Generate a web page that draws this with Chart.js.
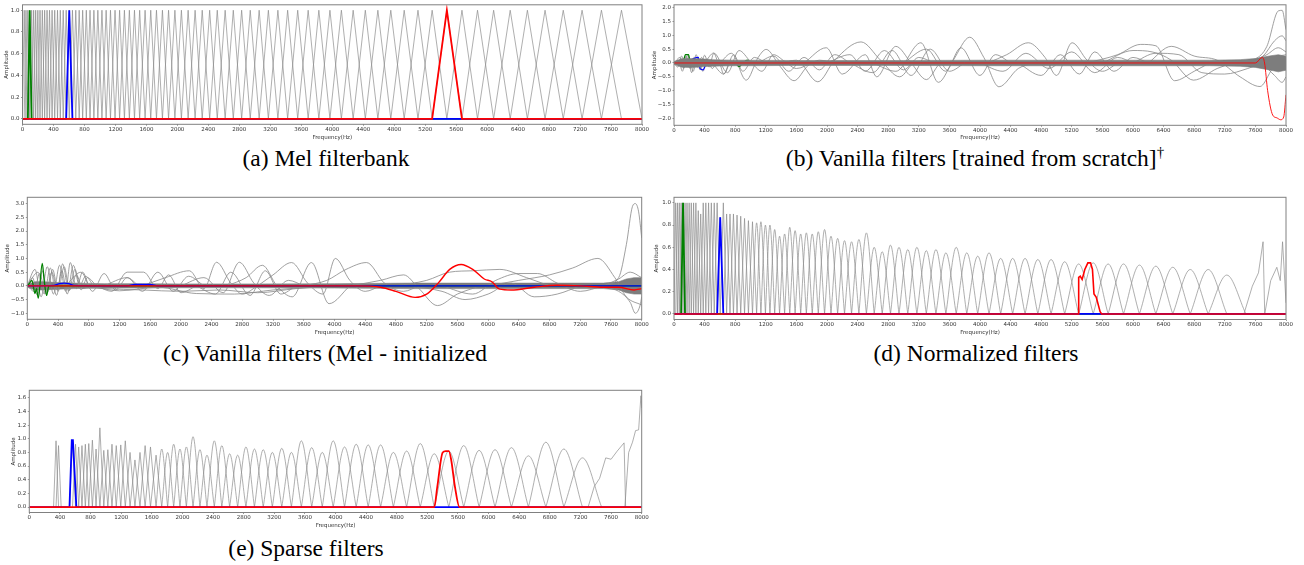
<!DOCTYPE html>
<html>
<head>
<meta charset="utf-8">
<script src="https://cdn.jsdelivr.net/npm/chart.js@4.4.0/dist/chart.umd.min.js"></script>
<style>
    body { margin: 0; background: #fff; width: 1304px; height: 565px; position: relative; overflow: hidden; }
    .panel { position: absolute; }
    .cap { position: absolute; width: 600px; text-align: center; font-family: "Liberation Serif", serif; font-size: 23.5px; line-height: 26px; color: #000; }
    .cap sup { font-size: 15px; line-height: 0; }
</style>
</head>
<body>
<div class="panel" style="left:0;top:0;width:650px;height:142px"><canvas id="melChart"></canvas></div>
<div class="panel" style="left:650px;top:0;width:654px;height:142px"><canvas id="scratchChart"></canvas></div>
<div class="panel" style="left:0;top:190px;width:650px;height:147px"><canvas id="melInitChart"></canvas></div>
<div class="panel" style="left:650px;top:190px;width:654px;height:147px"><canvas id="normChart"></canvas></div>
<div class="panel" style="left:0;top:383px;width:650px;height:147px"><canvas id="sparseChart"></canvas></div>

<div class="cap" style="left:26px;top:145px">(a) Mel filterbank</div>
<div class="cap" style="left:675px;top:145px">(b) Vanilla filters [trained from scratch]<sup>†</sup></div>
<div class="cap" style="left:25px;top:340px">(c) Vanilla filters (Mel - initialized</div>
<div class="cap" style="left:676px;top:340px">(d) Normalized filters</div>
<div class="cap" style="left:6px;top:535px">(e) Sparse filters</div>

<script>
// ---- axis ticks ----
const xTicks = [0, 400, 800, 1200, 1600, 2000, 2400, 2800, 3200, 3600, 4000,
    4400, 4800, 5200, 5600, 6000, 6400, 6800, 7200, 7600, 8000];
const ampTicksA = [0, 0.2, 0.4, 0.6, 0.8, 1.0];
const ampTicksB = [-2, -1.5, -1, -0.5, 0, 0.5, 1, 1.5, 2];
const ampTicksC = [-1, -0.5, 0, 0.5, 1, 1.5, 2, 2.5, 3];
const ampTicksD = [0, 0.2, 0.4, 0.6, 0.8, 1.0];
const ampTicksE = [0, 0.2, 0.4, 0.6, 0.8, 1.0, 1.2, 1.4, 1.6];

// ---- mel filter edge / centre frequencies (Hz), index 0..81 ----
const melEdges = [0, 22, 45, 69, 93, 118, 144, 170, 198, 226, 256, 286, 317, 349, 382, 416,
    452, 488, 526, 564, 604, 645, 688, 732, 777, 824, 872, 922, 973, 1026, 1080, 1136,
    1195, 1254, 1316, 1380, 1446, 1513, 1583, 1656, 1730, 1807, 1886, 1968, 2052, 2139,
    2229, 2321, 2417, 2515, 2617, 2722, 2830, 2941, 3056, 3175, 3298, 3424, 3554, 3689,
    3827, 3970, 4118, 4270, 4427, 4589, 4756, 4929, 5107, 5290, 5480, 5675, 5876, 6084,
    6298, 6520, 6748, 6983, 7226, 7476, 7735, 8000];

// peak heights of filters k = 1..80
const melHeights = [
    1, 1, 1, 1, 1, 1, 1, 1, 1, 1, 1, 1, 1, 1, 1, 1, 1, 1, 1, 1,
    1, 1, 1, 1, 1, 1, 1, 1, 1, 1, 1, 1, 1, 1, 1, 1, 1, 1, 1, 1,
    1, 1, 1, 1, 1, 1, 1, 1, 1, 1, 1, 1, 1, 1, 1, 1, 1, 1, 1, 1,
    1, 1, 1, 1, 1, 1, 1, 1, 1, 1, 1, 1, 1, 1, 1, 1, 1, 1, 1, 1];
const normHeights = [
    1, 1, 1, 1, 1, 1, 1, 1, 1, 1, 1, 0.93, 0.9, 1, 1, 1, 1, 1, 1, 0.87,
    1, 0.9, 0.9, 0.9, 0.89, 0.88, 0.86, 0.84, 0.83, 0.82, 0.83, 0.8, 0.8, 0.76, 0.7, 0.72, 0.78, 0.75, 0.72, 0.73,
    0.72, 0.74, 0.76, 0.7, 0.68, 0.66, 0.65, 0.67, 0.73, 0.6, 0.56, 0.62, 0.6, 0.58, 0.6, 0.57, 0.58, 0.55, 0.6, 0.55,
    0.52, 0.55, 0.5, 0.5, 0.5, 0.49, 0.49, 0.47, 0.45, 0.46, 0.45, 0.45, 0.44, 0.43, 0.42, 0.4, 0.4, 0.35, 0, 0];
const sparseHeights = [
    0, 0, 0, 0, 0, 0, 0, 0, 0, 0, 0, 0, 0.97, 0.9, 0, 0, 0, 0, 0.98, 0.92,
    0.88, 0.9, 0.92, 0.93, 0.98, 0.85, 1.16, 0.83, 0.84, 0.92, 0.9, 0.91, 0.97, 0.8, 0.69, 0.8, 0.9, 0.88, 0.76, 0.85,
    0.8, 0.92, 0.85, 0.88, 1.03, 0.84, 0.76, 0.97, 0.9, 0.78, 0.76, 0.88, 0.85, 0.84, 0.8, 0.86, 0.8, 0.97, 0.87, 0.8,
    0.97, 0.88, 0.92, 0.91, 0.91, 0.8, 0.82, 0.93, 0.78, 0.82, 0.9, 0.83, 0.84, 0.87, 0.75, 0.95, 0.85, 0.72, 0, 0];

// hand-read odd shapes [Hz, amplitude]
const normTail = [
    [[7450, 0], [7560, 0.25], [7640, 0.37], [7700, 0.65], [7722, 0]],
    [[7722, 0], [7800, 0.3], [7880, 0.42], [7925, 0.3], [7955, 0.65], [8000, 0.1]]
];
const normRed = [[0, 0], [5285, 0], [5290, 0.33], [5310, 0.34], [5335, 0.31], [5370, 0.4], [5410, 0.46],
    [5445, 0.46], [5470, 0.4], [5490, 0.18], [5520, 0.15], [5570, 0.02], [5590, 0], [8000, 0]];
const sparseTail = [
    [[7300, 0], [7380, 0.3], [7450, 0.42], [7530, 0.72], [7600, 0.7], [7680, 0.82], [7770, 0.94], [7790, 0]],
    [[7780, 0], [7830, 0.8], [7880, 0.95], [7920, 1.12], [7960, 1.13], [7990, 1.63], [8000, 1.45]]
];
const sparseRed = [[0, 0], [5290, 0], [5330, 0.3], [5400, 0.8], [5440, 0.82], [5480, 0.82], [5510, 0.7],
    [5560, 0.3], [5620, 0], [8000, 0]];
const sparseBlue = [[0, 0], [525, 0], [555, 0.98], [570, 0.98], [615, 0], [8000, 0]];

// ---- (b) vanilla filters trained from scratch ----
const scratchWaves = [
    [[600, 0], [750, 0.35], [944, -0.62], [1100, 0.2], [1205, 0.49], [1380, -0.1], [1570, -0.64], [1750, -0.1], [1900, 0.1], [2100, 0]],
    [[400, 0], [520, 0.36], [700, -0.35], [850, 0.45], [1000, 0.05], [1150, -0.3], [1300, 0.3], [1450, 0.05], [1600, -0.2], [1800, 0]],
    [[1400, 0], [1600, 0.1], [1880, -0.68], [2100, 0.1], [2445, 0.76], [2700, 0.1], [2950, -0.5], [3150, 0], [3400, 0]],
    [[1700, 0], [1990, 0.55], [2200, -0.4], [2500, 0.3], [2650, -0.5], [2900, 0.6], [3100, 0], [3300, -0.6], [3500, 0], [3700, 0]],
    [[2600, 0], [2900, -0.3], [3227, 0.73], [3456, -0.7], [3650, 0.1], [3866, 0.93], [4050, 0.2], [4248, -0.86], [4500, -0.2], [4700, 0]],
    [[3000, 0], [3300, 0.5], [3550, -0.3], [3750, 0.55], [4000, -0.45], [4200, 0.3], [4400, 0]],
    [[4100, 0], [4350, 0.3], [4631, 0.73], [4850, 0.2], [5000, -0.45], [5204, 0.73], [5400, 0.1], [5600, -0.3], [5800, 0]],
    [[4500, 0], [4800, -0.45], [5050, 0.3], [5300, -0.4], [5500, 0.4], [5750, -0.3], [6000, 0.2], [6200, 0]],
    [[5400, 0], [5800, 0.3], [6100, 0.67], [6300, 0.62], [6543, -0.64], [6800, -0.3], [7000, 0]],
    [[5600, 0], [6000, 0.45], [6250, 0.4], [6500, 0.1], [6790, -0.62], [7100, -0.2], [7300, 0]],
    [[6200, 0], [6500, 0.6], [6800, 0.25], [7100, 0.1], [7400, -0.5], [7660, -0.85], [7800, -0.3], [7900, 0.2], [8000, 0.3]],
    [[7300, 0], [7600, 0.15], [7750, 0.6], [7900, 1.88], [7950, 1.9], [8000, 1.2]],
    [[7400, 0], [7700, 0.25], [7850, 0.8], [7950, 0.98], [8000, 0.8]],
    [[7400, 0], [7700, -0.1], [7850, -0.45], [7950, -0.7], [8000, -0.5]],
    [[7500, 0], [7750, 0.3], [7900, 0.55], [8000, 0.4]],
    [[2000, 0], [2300, 0.3], [2500, -0.3], [2750, 0.45], [3000, -0.25], [3200, 0.2], [3400, 0]],
    [[1100, 0], [1300, 0.25], [1500, -0.3], [1700, 0.2], [1900, -0.25], [2100, 0.3], [2300, 0]],
    [[2300, 0], [2600, -0.35], [2850, 0.45], [3100, -0.45], [3350, 0.5], [3600, -0.3], [3800, 0]],
    [[4000, 0], [4300, -0.3], [4600, 0.35], [4900, -0.2], [5200, 0.4], [5500, -0.35], [5800, 0.2], [6000, 0]],
    [[6000, 0], [6300, 0.35], [6600, 0.3], [6900, -0.35], [7200, -0.4], [7500, -0.2], [7700, 0]],
    [[500, 0], [650, -0.4], [780, 0.3], [900, -0.3], [1050, 0.2], [1200, 0]],
    [[0, 0], [60, 0.1], [110, -0.3], [160, 0.25], [210, -0.2], [260, 0.2], [310, -0.15], [360, 0.2], [420, -0.1], [480, 0.1], [560, 0]],
    [[0, 0], [80, 0.2], [130, -0.2], [180, 0.3], [230, -0.35], [290, 0.3], [340, -0.25], [400, 0.28], [460, -0.15], [520, 0.35], [600, -0.1], [700, 0]],
    [[0, 0], [50, -0.15], [100, 0.25], [150, -0.1], [200, 0.15], [250, -0.3], [300, 0.1], [380, -0.3], [430, 0.15], [500, -0.2], [580, 0.1], [650, -0.4], [720, 0]]
];
const scratchBandX = [0, 100, 200, 300, 400, 500, 600, 800, 1000, 1500, 2000, 3000, 4000, 5000, 6000, 7000, 7400, 7600, 7800, 7900, 8000];
const scratchBandHi = [0.05, 0.15, 0.16, 0.15, 0.14, 0.12, 0.11, 0.1, 0.1, 0.09, 0.09, 0.09, 0.1, 0.1, 0.1, 0.1, 0.12, 0.16, 0.26, 0.3, 0.24];
const scratchBandLo = [-0.05, -0.15, -0.16, -0.15, -0.13, -0.12, -0.11, -0.1, -0.1, -0.09, -0.09, -0.09, -0.1, -0.1, -0.1, -0.1, -0.12, -0.16, -0.26, -0.32, -0.26];
const scratchGreen = [[0, 0], [120, 0.05], [150, 0.3], [190, 0.3], [210, 0.05], [260, 0], [800, 0], [850, -0.13], [900, 0], [960, 0.1], [1000, 0], [8000, 0]];
const scratchBlue = [[0, 0], [100, 0.1], [180, 0.05], [250, 0.15], [320, 0.2], [340, -0.2], [380, -0.25], [410, -0.1], [450, 0.05], [500, 0], [1250, 0], [1290, -0.05], [1330, 0], [5300, 0], [5350, -0.06], [5400, 0], [8000, 0]];
const scratchRed = [[0, 0], [7600, 0], [7690, 0.2], [7720, 0], [7760, -1.0], [7826, -1.88], [7880, -1.98], [7930, -2.05], [7970, -1.95], [8000, -1.15]];

// ---- (c) vanilla filters, mel initialised ----
const melInitWaves = [
    [[0, 0], [100, 0.6], [180, -0.4], [260, 0.7], [340, -0.3], [420, 0.75], [500, -0.2], [560, 0.85], [640, -0.1], [720, 0.5], [800, 0]],
    [[0, 0], [140, 0.5], [220, -0.3], [300, 0.65], [380, -0.35], [460, 0.8], [540, -0.2], [620, 0.6], [700, -0.15], [780, 0.3], [900, 0]],
    [[0, 0], [70, 0.3], [130, -0.35], [200, 0.55], [260, -0.25], [330, 0.6], [400, -0.2], [480, 0.7], [550, -0.15], [640, 0.4], [720, -0.1], [820, 0]],
    [[0, 0], [90, -0.2], [160, 0.45], [240, -0.3], [320, 0.5], [390, -0.15], [450, 0.55], [520, -0.3], [600, 0.75], [680, 0], [760, 0.35], [860, 0]],
    [[500, 0], [700, 0.5], [850, -0.2], [1000, 0.45], [1150, -0.15], [1300, 0.3], [1450, 0]],
    [[900, 0], [1100, -0.2], [1300, 0.5], [1514, 0.5], [1700, -0.1], [1840, 0.4], [2000, -0.25], [2200, 0]],
    [[1500, 0], [1800, 0.3], [2111, 0.55], [2300, -0.1], [2464, 0.86], [2650, 0.1], [2800, -0.3], [3000, 0]],
    [[2000, 0], [2300, 0.3], [2550, -0.25], [2762, 0.86], [2950, 0.1], [3150, -0.35], [3400, 0.2], [3600, 0]],
    [[2600, 0], [2850, 0.3], [3061, 0.75], [3250, 0], [3450, -0.4], [3700, 0.85], [3929, -0.65], [4200, 0]],
    [[3000, 0], [3200, 0.4], [3441, 0.85], [3650, 0.1], [3850, -0.3], [4011, 1.0], [4200, 0.2], [4400, -0.2], [4600, 0]],
    [[3600, 0], [3900, 0.2], [4150, 0.6], [4418, 0.85], [4650, 0.1], [4900, -0.2], [5100, 0]],
    [[4200, 0], [4600, 0.2], [4900, 0.4], [5100, -0.1], [5340, -0.72], [5600, -0.3], [5900, 0]],
    [[4800, 0], [5200, 0.2], [5500, 0.5], [5800, 0.55], [6154, 0.6], [6500, 0.3], [6800, 0]],
    [[5400, 0], [5800, -0.3], [6100, 0.2], [6400, 0.45], [6643, 0.45], [6900, 0.1], [7200, -0.2], [7500, 0]],
    [[6000, 0], [6400, 0.2], [6800, 0.4], [7100, 0.65], [7430, 1.0], [7650, 0.3], [7800, -0.4], [8000, -0.7]],
    [[7500, 0], [7700, 0.3], [7800, 1.5], [7880, 2.9], [7918, 3.0], [7960, 2.7], [8000, 1.75]],
    [[7400, 0], [7700, -0.2], [7850, -0.6], [7918, -1.0], [7980, -0.7], [8000, -0.4]],
    [[5000, 0], [5400, -0.2], [5700, -0.5], [6000, -0.3], [6300, 0.1], [6600, -0.4], [6900, -0.3], [7200, 0]],
    [[1000, 0], [1300, 0.3], [1500, -0.2], [1700, 0.5], [1900, -0.2], [2100, 0.35], [2300, 0]],
    [[2200, 0], [2450, -0.3], [2650, 0.5], [2900, -0.35], [3100, 0.55], [3300, -0.3], [3500, 0]],
    [[7500, 0], [7700, 0.25], [7850, 0.5], [8000, 0.3]],
    [[600, 0], [1000, -0.1], [1500, -0.15], [2000, -0.2], [2500, -0.15], [3000, -0.25], [3500, -0.1], [4000, 0]],
    [[800, 0], [1200, -0.18], [1700, -0.05], [2200, -0.28], [2700, -0.3], [3200, -0.15], [3700, -0.05], [4200, 0]]
];
const melInitBandX = [0, 100, 200, 400, 600, 800, 1000, 1500, 2000, 3000, 4000, 5000, 6000, 7000, 7500, 7700, 7800, 7900, 8000];
const melInitBandHi = [0.05, 0.15, 0.15, 0.12, 0.1, 0.09, 0.08, 0.08, 0.07, 0.07, 0.08, 0.1, 0.1, 0.1, 0.1, 0.15, 0.25, 0.3, 0.3];
const melInitBandLo = [-0.05, -0.15, -0.15, -0.12, -0.1, -0.09, -0.08, -0.08, -0.07, -0.07, -0.08, -0.1, -0.1, -0.1, -0.1, -0.15, -0.25, -0.3, -0.3];
const melInitGreen = [[0, 0], [30, 0.1], [60, 0.2], [100, -0.28], [120, -0.1], [143, -0.45], [195, 0.82], [220, 0.2], [252, -0.35], [280, 0], [320, 0], [8000, 0]];
const melInitBlue = [[0, 0], [350, 0.02], [420, 0.08], [480, 0.1], [540, 0.08], [600, 0.02], [1300, 0], [1400, 0.05], [1600, 0.05], [1700, 0], [8000, 0]];
const melInitRed = [[0, 0], [4300, 0], [4600, -0.05], [4800, -0.2], [5050, -0.42], [5200, -0.3], [5350, 0.1], [5500, 0.6],
    [5650, 0.78], [5800, 0.6], [5950, 0.25], [6050, 0.15], [6150, -0.12], [6300, -0.15], [6600, -0.05], [6900, 0.02],
    [7200, 0], [7500, -0.05], [7700, -0.05], [7900, -0.15], [8000, -0.1]];

// ---- drawing helpers ----
const GRAY = "#8c8c8c";
const WAVE = "#888888";
const BAND = "#7d7d7d";

function toPoints(list) {
    return list.map(p => ({ x: p[0], y: p[1] }));
}

function lineSet(list, color, width, order, smooth) {
    return {
        data: toPoints(list),
        borderColor: color,
        borderWidth: width,
        pointRadius: 0,
        fill: false,
        tension: smooth ? 0.4 : 0,
        cubicInterpolationMode: smooth ? "monotone" : "default",
        order
    };
}

function melShape(k, h) {
    return [[melEdges[k - 1], 0], [melEdges[k], h], [melEdges[k + 1], 0]];
}

function highlight(k, h, color, order) {
    return lineSet([[0, 0], ...melShape(k, h), [8000, 0]], color, 1.8, order);
}

function filterSets(heights, roundFrom) {
    const sets = [];
    heights.forEach((h, i) => {
        if (h > 0) {
            sets.push(lineSet(melShape(i + 1, h), GRAY, 0.7, 10, i + 1 >= roundFrom));
        }
    });
    return sets;
}

function bandSets(xs, hi, lo, order) {
    return [
        lineSet(xs.map((x, i) => [x, lo[i]]), BAND, 0.6, order),
        { ...lineSet(xs.map((x, i) => [x, hi[i]]), BAND, 0.6, order), fill: "-1", backgroundColor: BAND }
    ];
}

const frame = {
    id: "frame",
    afterDatasetsDraw(chart) {
        const a = chart.chartArea;
        const c = chart.ctx;
        c.save();
        c.strokeStyle = "#808080";
        c.lineWidth = 1;
        c.strokeRect(a.left, a.top, a.right - a.left, a.bottom - a.top);
        c.restore();
    }
};

const fmt = v => v.toFixed(1).replace("-", "\u2212");

function makeChart(id, cfg) {
    const tickFont = { family: "DejaVu Sans", size: 5.5 };
    new Chart(document.getElementById(id), {
        type: "line",
        data: { datasets: cfg.datasets },
        options: {
            animation: false,
            responsive: true,
            maintainAspectRatio: false,
            devicePixelRatio: 1,
            parsing: false,
            events: [],
            layout: { padding: { top: cfg.padTop, right: cfg.padRight, left: 0, bottom: 0 } },
            plugins: { legend: { display: false }, tooltip: { enabled: false } },
            scales: {
                x: {
                    type: "linear",
                    min: 0,
                    max: 8000,
                    afterBuildTicks: s => { s.ticks = xTicks.map(v => ({ value: v })); },
                    afterFit: s => { s.height = cfg.xHeight; },
                    ticks: { font: tickFont, color: "#333", maxRotation: 0, autoSkip: false, padding: 0.5, callback: v => String(v) },
                    grid: { drawOnChartArea: false, tickLength: 1.5, color: "#555", lineWidth: 0.6 },
                    border: { display: false },
                    title: { display: true, text: "Frequency(Hz)", font: tickFont, color: "#333", padding: { top: 0, bottom: 1.5 } }
                },
                y: {
                    type: "linear",
                    min: cfg.yMin,
                    max: cfg.yMax,
                    afterBuildTicks: s => { s.ticks = cfg.yTicks.map(v => ({ value: v })); },
                    afterFit: s => { s.width = cfg.yWidth; },
                    ticks: { font: tickFont, color: "#333", padding: 1.5, callback: v => fmt(v) },
                    grid: { drawOnChartArea: false, tickLength: 1.5, color: "#555", lineWidth: 0.6 },
                    border: { display: false },
                    title: { display: true, text: "Amplitude", font: tickFont, color: "#333", padding: { top: cfg.titleX - 3.3, bottom: 0 } }
                }
            }
        },
        plugins: [frame]
    });
}

// (a) Mel filterbank
makeChart("melChart", {
    datasets: [
        ...filterSets(melHeights, 99),
        highlight(4, 1, "#008000", 2),
        highlight(20, 1, "#0000ff", 1),
        highlight(70, 1, "#ff0000", 0)
    ],
    yMin: -0.05, yMax: 1.05, yTicks: ampTicksA,
    padTop: 3.3, padRight: 8, yWidth: 22.5, xHeight: 17.7, titleX: 7
});

// (b) trained from scratch: the dense band sits above the flat green/blue parts
makeChart("scratchChart", {
    datasets: [
        ...bandSets(scratchBandX, scratchBandHi, scratchBandLo, 2),
        ...scratchWaves.map(w => lineSet(w, WAVE, 0.8, 10, true)),
        lineSet(scratchGreen, "#008000", 1.3, 4, true),
        lineSet(scratchBlue, "#0000ff", 1.2, 3, true),
        lineSet(scratchRed, "#ff0000", 0.9, 0, true)
    ],
    yMin: -2.25, yMax: 2.1, yTicks: ampTicksB,
    padTop: 3.3, padRight: 18, yWidth: 24, xHeight: 16.7, titleX: 5
});

// (c) mel initialised
makeChart("melInitChart", {
    datasets: [
        ...bandSets(melInitBandX, melInitBandHi, melInitBandLo, 20),
        ...melInitWaves.map(w => lineSet(w, WAVE, 0.8, 10, true)),
        lineSet(melInitGreen, "#008000", 1.3, 2, true),
        lineSet(melInitBlue, "#0000ff", 1.3, 1, true),
        lineSet(melInitRed, "#ff0000", 1.4, 0, true)
    ],
    yMin: -1.22, yMax: 3.23, yTicks: ampTicksC,
    padTop: 7.3, padRight: 8.3, yWidth: 27.3, xHeight: 17.7, titleX: 7.3
});

// (d) normalized
makeChart("normChart", {
    datasets: [
        ...filterSets(normHeights, 30),
        ...normTail.map(t => lineSet(t, GRAY, 0.7, 10)),
        highlight(5, 1, "#008000", 2),
        highlight(20, 0.87, "#0000ff", 1),
        lineSet(normRed, "#ff0000", 1.6, 0)
    ],
    yMin: -0.05, yMax: 1.05, yTicks: ampTicksD,
    padTop: 7.3, padRight: 18, yWidth: 24, xHeight: 17.5, titleX: 7
});

// (e) sparse
makeChart("sparseChart", {
    datasets: [
        ...filterSets(sparseHeights, 40),
        ...sparseTail.map(t => lineSet(t, GRAY, 0.7, 10)),
        lineSet(sparseBlue, "#0000ff", 1.8, 1),
        lineSet(sparseRed, "#ff0000", 1.8, 0, true)
    ],
    yMin: -0.08, yMax: 1.71, yTicks: ampTicksE,
    padTop: 7.3, padRight: 8.3, yWidth: 29.3, xHeight: 17.5, titleX: 13.3
});
</script>
</body>
</html>
